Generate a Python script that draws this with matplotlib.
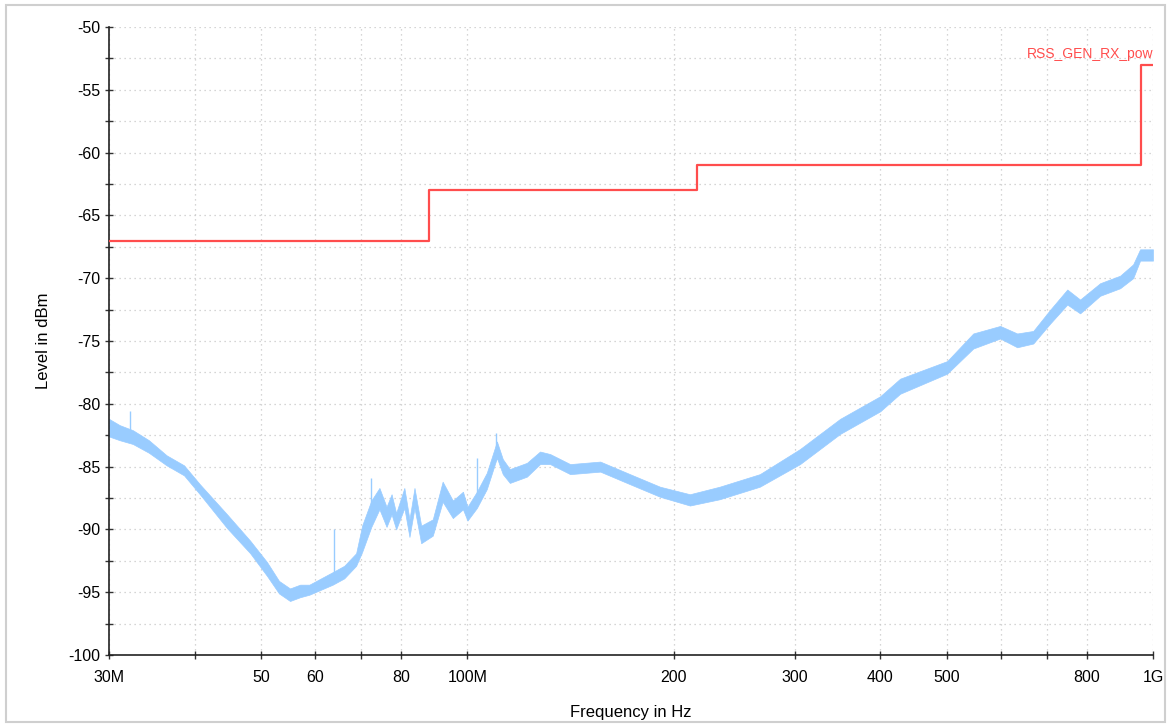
import matplotlib
matplotlib.use("Agg")
import matplotlib.pyplot as plt
from matplotlib.patches import Rectangle

plt.rcParams['font.family'] = ['Liberation Sans', 'DejaVu Sans']
plt.rcParams['axes.unicode_minus'] = False

# limit line RSS_GEN_RX_pow (MHz, dBm)
limit_freq = [30, 88, 88, 216, 216, 960, 960, 1000]
limit_level = [-67, -67, -63, -63, -61, -61, -53, -53]

# measured trace, read as a lower / upper envelope (MHz, dBm)
trace_freq = [30, 31.1, 32.5, 34.3, 36.4, 38.6, 40.7, 44.6, 48.2, 51.0, 53.1, 55.1,
              57.0, 58.8, 63.6, 66.1, 68.8, 70.2, 72.4, 74.4, 76.2, 77.5, 78.7, 80.9,
              82.3, 83.7, 85.6, 89.0, 92.0, 95.2, 98.5, 100, 103.2, 106.7, 110.4, 112.6,
              115.3, 122.1, 127.6, 132.0, 141.2, 156.2, 172.6, 190.9, 211.1, 233.3,
              267.0, 305.6, 349.6, 400, 427.7, 500.9, 546.8, 598.6, 633.8, 668.9,
              708.3, 749.9, 782.9, 837.3, 895.5, 935.5, 957.7, 1000]
trace_lo = [-82.6, -82.9, -83.2, -83.9, -84.9, -85.7, -87.2, -89.9, -91.9, -93.7, -95.1, -95.7,
            -95.4, -95.2, -94.4, -93.9, -92.9, -91.8, -89.8, -88.4, -89.8, -88.8, -90.0, -88.3,
            -90.6, -88.3, -91.1, -90.5, -87.8, -89.1, -88.4, -89.3, -88.3, -86.8, -84.3, -85.6,
            -86.3, -85.8, -84.8, -84.8, -85.6, -85.4, -86.4, -87.4, -88.1, -87.6,
            -86.6, -84.8, -82.4, -80.6, -79.2, -77.6, -75.6, -74.8, -75.5, -75.2,
            -73.6, -72.1, -72.8, -71.4, -70.8, -70.0, -68.6, -68.6]
trace_hi = [-81.2, -81.7, -82.1, -82.9, -84.1, -84.9, -86.4, -88.8, -90.9, -92.6, -94.1, -94.7,
            -94.4, -94.4, -93.4, -92.9, -91.9, -89.7, -87.7, -86.7, -88.2, -87.2, -88.7, -86.7,
            -89.2, -86.7, -89.7, -89.2, -86.2, -87.7, -87.0, -88.2, -87.0, -85.5, -83.0, -84.4,
            -85.2, -84.7, -83.8, -84.0, -84.8, -84.6, -85.6, -86.6, -87.2, -86.6,
            -85.6, -83.6, -81.2, -79.4, -78.0, -76.6, -74.4, -73.8, -74.4, -74.2,
            -72.5, -70.9, -71.7, -70.4, -69.8, -68.9, -67.7, -67.7]

# narrow spikes on the trace
spike_freq = [32.2, 63.9, 72.4, 103.3, 110.0]
spike_top = [-80.6, -90.0, -85.9, -84.3, -82.3]
spike_base = [-82.3, -93.5, -89.0, -87.5, -84.5]

x_ticks = [30, 40, 50, 60, 70, 80, 100, 200, 300, 400, 500, 600, 700, 800, 1000]
x_labels = ['30M', '', '50', '60', '', '80', '100M', '200', '300', '400', '500', '', '', '800', '1G']
y_major = [-100, -95, -90, -85, -80, -75, -70, -65, -60, -55, -50]
y_minor = [-97.5, -92.5, -87.5, -82.5, -77.5, -72.5, -67.5, -62.5, -57.5, -52.5]

trace_color = '#99ccff'
limit_color = '#ff4d4d'

fig = plt.figure(figsize=(11.71, 7.24), dpi=100)
fig.patches.append(Rectangle((0.005, 0.003), 0.99, 0.99, transform=fig.transFigure,
                             fill=False, edgecolor='#cfcfcf', linewidth=1.5))
ax = fig.add_axes([0.0931, 0.0953, 0.8915, 0.8674])

ax.fill_between(trace_freq, trace_lo, trace_hi, color=trace_color, linewidth=0.5,
                edgecolor=trace_color, zorder=2)
ax.vlines(spike_freq, spike_base, spike_top, color=trace_color, linewidth=1.0, zorder=2)
ax.plot(limit_freq, limit_level, color=limit_color, linewidth=1.6, zorder=3)
ax.text(1000, -52.7, 'RSS_GEN_RX_pow', color=limit_color, fontsize=10,
        ha='right', va='bottom')

ax.set_xscale('log')
ax.set_xlim(30, 1000)
ax.set_ylim(-100, -50)
ax.set_xticks(x_ticks)
ax.set_xticklabels(x_labels)
ax.xaxis.set_minor_locator(plt.NullLocator())
ax.set_yticks(y_major)
ax.set_yticks(y_minor, minor=True)

for y in y_major + y_minor:
    ax.axhline(y, color='#c8c8c8', linestyle=(0, (1, 3)), linewidth=0.9, zorder=1)
for x in x_ticks:
    ax.axvline(x, color='#c8c8c8', linestyle=(0, (1, 3)), linewidth=0.9, zorder=1)

for side in ['top', 'right']:
    ax.spines[side].set_visible(False)
for side in ['left', 'bottom']:
    ax.spines[side].set_color('#222222')
    ax.spines[side].set_linewidth(1.2)

ax.tick_params(axis='both', which='both', direction='inout', length=6, width=1,
               color='#333333', labelsize=11.5)
ax.tick_params(axis='x', pad=8)
ax.tick_params(axis='y', pad=3)

ax.set_xlabel('Frequency in Hz', fontsize=12)
ax.set_ylabel('Level in dBm', fontsize=12)
ax.yaxis.set_label_coords(-0.056, 0.5)
ax.xaxis.set_label_coords(0.5, -0.08)

fig.savefig('out.png', dpi=100)
